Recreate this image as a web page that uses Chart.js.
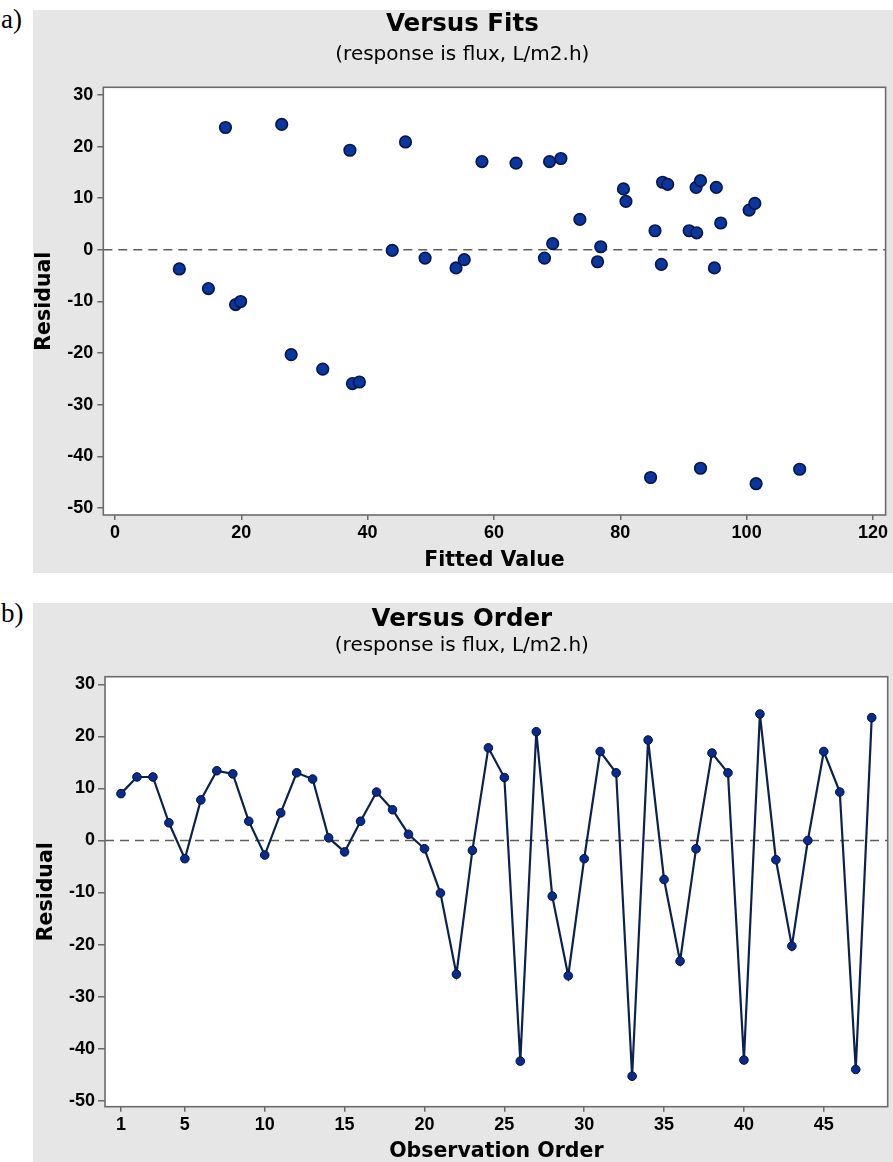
<!DOCTYPE html>
<html><head><meta charset="utf-8">
<script src="https://cdn.jsdelivr.net/npm/chart.js@4.4.0/dist/chart.umd.min.js"></script>
<style>
html,body{margin:0;padding:0;background:#fff;width:893px;height:1162px;overflow:hidden;}
.panel{position:absolute;left:33px;width:860px;background:#e6e6e6;}
#pa{top:10px;height:563px;}
#pb{top:603px;height:559px;}
.lbl{position:absolute;left:1px;font-family:'Liberation Serif','DejaVu Serif',serif;font-size:27px;line-height:28px;color:#000;}
</style></head>
<body>
<div class="lbl" style="top:5px">a)</div>
<div class="lbl" style="top:599px">b)</div>
<div class="panel" id="pa"><canvas id="ca"></canvas></div>
<div class="panel" id="pb"><canvas id="cb"></canvas></div>
<script>
// ---- Panel a: Versus Fits ----
const fittedValues = [10.2,14.8,17.5,19.1,19.9,26.4,27.9,32.9,37.2,37.6,38.7,43.9,46.0,49.1,54.0,55.3,58.1,63.5,68.0,68.8,69.3,70.6,73.6,76.4,76.9,80.5,80.9,84.8,85.5,86.5,86.7,87.5,90.9,92.0,92.1,92.7,92.7,94.9,95.2,95.9,100.4,101.3,101.5,108.4];
const fitResiduals = [-3.7,-7.5,23.7,-10.6,-10.0,24.3,-20.3,-23.1,19.3,-25.9,-25.6,-0.1,20.9,-1.6,-3.5,-1.9,17.1,16.8,-1.6,17.1,1.2,17.7,5.9,-2.3,0.6,11.8,9.4,-44.1,3.7,-2.8,13.1,12.7,3.7,12.1,3.3,13.4,-42.3,-3.5,12.1,5.2,7.7,9.0,-45.3,-42.5];
const fitsXTicks = [0,20,40,60,80,100,120];

// ---- Panel b: Versus Order ----
const observationOrder = [1,2,3,4,5,6,7,8,9,10,11,12,13,14,15,16,17,18,19,20,21,22,23,24,25,26,27,28,29,30,31,32,33,34,35,36,37,38,39,40,41,42,43,44,45,46,47,48];
const orderResiduals = [9.0,12.2,12.2,3.4,-3.5,7.8,13.4,12.8,3.7,-2.8,5.3,13.0,11.8,0.5,-2.2,3.7,9.3,5.9,1.2,-1.6,-10.1,-25.7,-1.9,17.8,12.1,-42.4,20.9,-10.7,-26.0,-3.5,17.1,13.0,-45.3,19.3,-7.5,-23.2,-1.6,16.8,13.0,-42.2,24.3,-3.7,-20.3,0.0,17.1,9.3,-44.0,23.6];
const orderXTicks = [1,5,10,15,20,25,30,35,40,45];

const residualTicks = [-50,-40,-30,-20,-10,0,10,20,30];
const titleText = ['Versus Fits','Versus Order'];
const subtitleText = '(response is flux, L/m2.h)';

const framePlugin = {
  id: 'frame',
  beforeDraw(chart) {
    const {ctx, chartArea: a} = chart;
    ctx.save(); ctx.fillStyle = '#ffffff';
    ctx.fillRect(a.left, a.top, a.right - a.left, a.bottom - a.top);
    ctx.restore();
  },
  beforeDatasetsDraw(chart) {
    const {ctx, chartArea: a} = chart;
    const y = chart.scales.y.getPixelForValue(0);
    ctx.save(); ctx.strokeStyle = '#5e5e5e'; ctx.lineWidth = 1.5; ctx.setLineDash([9,6]);
    ctx.beginPath(); ctx.moveTo(a.left, y); ctx.lineTo(a.right, y); ctx.stroke(); ctx.restore();
  },
  afterDraw(chart) {
    const {ctx, chartArea: a} = chart;
    ctx.save(); ctx.strokeStyle = '#6b6b6b'; ctx.lineWidth = 1.6;
    ctx.strokeRect(a.left, a.top, a.right - a.left, a.bottom - a.top);
    ctx.restore();
  }
};

function makeOptions(cfg) {
  return {
    responsive: true, maintainAspectRatio: false, animation: false, devicePixelRatio: 1,
    layout: {padding: {left: 0, top: 0, bottom: 0, right: cfg.padRight}},
    plugins: {
      legend: {display: false}, tooltip: {enabled: false},
      title: {display: true, text: cfg.title, color: '#000',
        font: {family: 'DejaVu Sans', weight: 'bold', size: 24.5, lineHeight: 1},
        padding: {top: cfg.tPadTop, bottom: cfg.tPadBottom}},
      subtitle: {display: true, text: subtitleText, color: '#000',
        font: {family: 'DejaVu Sans', weight: 'normal', size: 20, lineHeight: 1},
        padding: {top: cfg.sPadTop, bottom: cfg.sPadBottom}}
    },
    scales: {
      x: {type: 'linear', min: cfg.xMin, max: cfg.xMax,
        afterBuildTicks: s => { s.ticks = cfg.xTicks.map(v => ({value: v})); },
        afterFit: s => { s.height = cfg.xHeight; s.paddingLeft = 0; s.paddingRight = 0; },
        grid: {drawOnChartArea: false, drawTicks: true, tickLength: cfg.xTickLen, color: '#6b6b6b', lineWidth: 1.5},
        border: {display: false},
        ticks: {padding: cfg.xTickPad, color: '#000', autoSkip: false, maxRotation: 0,
          font: {family: 'Liberation Sans', weight: 'bold', size: 18, lineHeight: 1.2}},
        title: {display: true, text: cfg.xTitle, color: '#000',
          font: {family: 'DejaVu Sans', weight: 'bold', size: 20.5, lineHeight: 1},
          padding: {top: 0, bottom: cfg.xTitlePad}}
      },
      y: {type: 'linear', min: cfg.yMin, max: cfg.yMax,
        afterBuildTicks: s => { s.ticks = residualTicks.map(v => ({value: v})); },
        afterFit: s => { s.width = cfg.yWidth; s.paddingTop = 0; s.paddingBottom = 0; },
        grid: {drawOnChartArea: false, drawTicks: true, tickLength: cfg.yTickLen, color: '#6b6b6b', lineWidth: 1.5},
        border: {display: false},
        ticks: {padding: cfg.yTickPad, color: '#000', autoSkip: false,
          font: {family: 'Liberation Sans', weight: 'bold', size: 18, lineHeight: 1.2}},
        title: {display: true, text: 'Residual', color: '#000',
          font: {family: 'DejaVu Sans', weight: 'bold', size: 20.5, lineHeight: 1},
          padding: {top: cfg.yTitlePad, bottom: 0}}
      }
    }
  };
}

new Chart(document.getElementById('ca'), {
  type: 'scatter',
  data: {datasets: [{
    data: fittedValues.map((x, i) => ({x: x, y: fitResiduals[i]})),
    pointRadius: 5.8, pointBackgroundColor: '#0a369e', pointBorderColor: '#05164a', pointBorderWidth: 1.6
  }]},
  options: makeOptions({
    title: titleText[0], tPadTop: 2.5, tPadBottom: 4, sPadTop: 3.5, sPadBottom: 22.8, padRight: 1.3,
    xMin: -1.84, xMax: 122, xTicks: fitsXTicks, xHeight: 58, xTickLen: 5, xTickPad: 2.2,
    xTitle: 'Fitted Value', xTitlePad: 1.85,
    yMin: -51.36, yMax: 31.49, yWidth: 70.3, yTickLen: 6, yTickPad: 4, yTitlePad: 1.75
  }),
  plugins: [framePlugin]
});

new Chart(document.getElementById('cb'), {
  type: 'line',
  data: {datasets: [{
    data: observationOrder.map((x, i) => ({x: x, y: orderResiduals[i]})),
    borderColor: '#0a2250', borderWidth: 2.2, tension: 0,
    pointRadius: 4.3, pointBackgroundColor: '#0a2a8c', pointBorderColor: '#00103c', pointBorderWidth: 1
  }]},
  options: makeOptions({
    title: titleText[1], tPadTop: 3.95, tPadBottom: 2, sPadTop: 2.55, sPadBottom: 20.7, padRight: 2.3,
    xMin: 0, xMax: 49, xTicks: orderXTicks, xHeight: 55.3, xTickLen: 5, xTickPad: 2.6,
    xTitle: 'Observation Order', xTitlePad: 0,
    yMin: -51.16, yMax: 31.47, yWidth: 72, yTickLen: 7, yTickPad: 3, yTitlePad: 3.75
  }),
  plugins: [framePlugin]
});
</script>
</body></html>
